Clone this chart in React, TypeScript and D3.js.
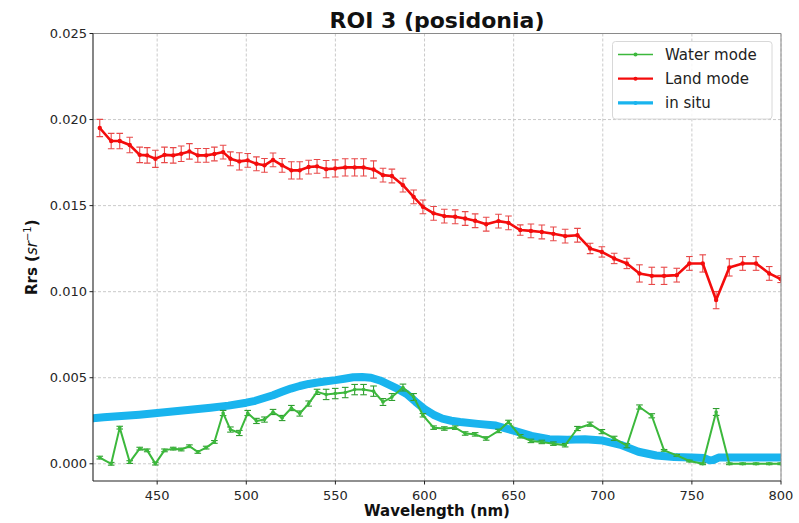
import React from "react";
import * as d3 from "d3";

const wavelengths = [417.8, 424.2, 429.0, 434.6, 440.2, 444.4, 449.0, 454.1, 459.0, 463.5, 468.1, 472.8, 477.5, 482.1, 487.0, 491.1, 496.1, 500.8, 505.7, 510.2, 515.0, 520.1, 525.3, 530.0, 535.0, 539.7, 544.8, 549.9, 555.5, 560.8, 565.8, 571.4, 576.7, 581.7, 587.9, 593.9, 599.1, 605.1, 611.1, 617.2, 622.8, 628.4, 634.6, 641.5, 647.1, 653.7, 659.7, 665.8, 672.3, 678.9, 685.8, 692.9, 699.5, 706.4, 713.5, 720.6, 727.5, 734.4, 741.5, 748.6, 756.1, 763.6, 771.0, 778.5, 786.0, 793.4, 799.8];

const landMode = [0.01951, 0.01875, 0.01875, 0.01852, 0.01795, 0.01792, 0.01772, 0.01795, 0.01792, 0.01801, 0.01815, 0.01792, 0.01792, 0.0180, 0.01811, 0.01772, 0.01757, 0.01763, 0.01743, 0.01734, 0.01766, 0.01734, 0.01705, 0.01705, 0.01724, 0.01728, 0.01712, 0.01716, 0.01722, 0.01722, 0.01722, 0.0171, 0.01677, 0.01672, 0.01619, 0.01551, 0.01493, 0.01455, 0.01439, 0.01435, 0.01425, 0.01412, 0.01392, 0.0141, 0.014, 0.01358, 0.01353, 0.01347, 0.01336, 0.01323, 0.01328, 0.01251, 0.01231, 0.01193, 0.01164, 0.01106, 0.01092, 0.01092, 0.01096, 0.01164, 0.01164, 0.00951, 0.01141, 0.01164, 0.01164, 0.01106, 0.01073];

const landErr = [0.0005, 0.00045, 0.00045, 0.00045, 0.00045, 0.00045, 0.0005, 0.00045, 0.00045, 0.00045, 0.00045, 0.0004, 0.0004, 0.0004, 0.0004, 0.0004, 0.0005, 0.0004, 0.0004, 0.0004, 0.0004, 0.0004, 0.0005, 0.0005, 0.0004, 0.0004, 0.0005, 0.0005, 0.0005, 0.0005, 0.0005, 0.0005, 0.0004, 0.0004, 0.0004, 0.0004, 0.0004, 0.0004, 0.0004, 0.0004, 0.0004, 0.0004, 0.0004, 0.0004, 0.0004, 0.0003, 0.0004, 0.0004, 0.0004, 0.0004, 0.0004, 0.0003, 0.0003, 0.0003, 0.0003, 0.0005, 0.0005, 0.0005, 0.0004, 0.0004, 0.0005, 0.0005, 0.0005, 0.0004, 0.0004, 0.0004, 0.0002];

const waterMode = [0.00036, 0.0, 0.0021, 0.0001, 0.00088, 0.00078, 0.00001, 0.00078, 0.00088, 0.00083, 0.00102, 0.00069, 0.00094, 0.00127, 0.00295, 0.00199, 0.00179, 0.00295, 0.00249, 0.00257, 0.00301, 0.00266, 0.00324, 0.00292, 0.0035, 0.00418, 0.00403, 0.00408, 0.00414, 0.00431, 0.00431, 0.00422, 0.00359, 0.00388, 0.00443, 0.00388, 0.00282, 0.0021, 0.00205, 0.0021, 0.00176, 0.00171, 0.00147, 0.00191, 0.00243, 0.0016, 0.00133, 0.00127, 0.00117, 0.00108, 0.00205, 0.0023, 0.00187, 0.00148, 0.00105, 0.0033, 0.00279, 0.00078, 0.00049, 0.00016, 0.0, 0.00301, 0.0, 0.0, 0.0, 0.0, 0.0];

const waterErr = [0.00008, 0.00008, 0.00008, 0.00008, 0.00008, 0.00008, 0.00008, 0.00008, 0.00008, 0.00008, 0.00008, 0.00008, 0.00008, 0.00008, 0.00015, 0.00015, 0.00015, 0.00015, 0.00015, 0.00015, 0.00015, 0.00015, 0.00015, 0.00015, 0.00015, 0.00015, 0.0003, 0.0003, 0.0003, 0.0003, 0.0003, 0.0003, 0.0002, 0.0002, 0.0002, 0.0002, 0.0001, 0.0001, 0.0001, 0.0001, 0.0001, 0.0001, 0.0001, 0.0001, 0.0001, 0.0001, 0.0001, 0.0001, 0.0001, 0.0001, 0.00012, 0.00012, 0.00012, 0.00012, 0.00012, 0.00012, 0.00012, 0.00005, 0.00005, 0.00005, 0.00005, 0.0002, 0.00005, 0.00005, 0.00005, 0.00005, 0.00005];

const inSituWl = [414, 420, 430, 440, 450, 460, 470, 480, 490, 500, 505, 510, 515, 520, 525, 530, 535, 540, 545, 550, 555, 560, 565, 570, 575, 580, 585, 590, 595, 600, 605, 610, 615, 620, 630, 640, 650, 660, 670, 680, 690, 700, 710, 720, 730, 740, 750, 757, 760, 762, 765, 780, 800];
const inSitu = [0.00265, 0.0027, 0.00277, 0.00285, 0.00295, 0.00305, 0.00316, 0.00326, 0.00338, 0.00355, 0.00366, 0.00382, 0.00398, 0.00418, 0.00437, 0.00452, 0.00464, 0.00472, 0.0048, 0.00486, 0.00494, 0.00503, 0.00504, 0.005, 0.00484, 0.0046, 0.00435, 0.00405, 0.0036, 0.00318, 0.00285, 0.00262, 0.0025, 0.00243, 0.00232, 0.00222, 0.00193, 0.00162, 0.00143, 0.0014, 0.00142, 0.00135, 0.0011, 0.0007, 0.00048, 0.0004, 0.00036, 0.00033, 0.0002, 0.00022, 0.00036, 0.00037, 0.00037];

const xTicks = [450, 500, 550, 600, 650, 700, 750, 800];
const yTicks = [0.0, 0.005, 0.01, 0.015, 0.02, 0.025];

const seriesNames = ["Water mode", "Land mode", "in situ"];

const W = 799;
const H = 523;
const left = 93;
const right = 781;
const top = 33.5;
const bottom = 481;

const GREEN = "#3cb83c";
const RED = "#f40c0c";
const BLUE = "#19b4ee";
const FONT = "DejaVu Sans, sans-serif";

export default function App() {
  const x = d3.scaleLinear().domain([414, 800]).range([left, right]);
  const y = d3.scaleLinear().domain([-0.001, 0.025]).range([bottom, top]);

  const ptLine = d3
    .line<[number, number]>()
    .x((d) => x(d[0]))
    .y((d) => y(d[1]));

  const landPts: [number, number][] = wavelengths.map((w, i) => [w, landMode[i]]);
  const waterPts: [number, number][] = wavelengths.map((w, i) => [w, waterMode[i]]);
  const situPts: [number, number][] = inSituWl.map((w, i) => [w, inSitu[i]]);

  const errBars = (vals: number[], errs: number[], color: string, key: string) =>
    wavelengths.map((w, i) => {
      const cx = x(w);
      const y1 = y(vals[i] + errs[i]);
      const y2 = y(vals[i] - errs[i]);
      return (
        <g key={key + i} stroke={color} strokeWidth={1.1}>
          <line x1={cx} x2={cx} y1={y1} y2={y2} />
          <line x1={cx - 3.3} x2={cx + 3.3} y1={y1} y2={y1} />
          <line x1={cx - 3.3} x2={cx + 3.3} y1={y2} y2={y2} />
        </g>
      );
    });

  const legendX = 612.5;
  const legendY = 41.5;
  const legendColors = [GREEN, RED, BLUE];
  const legendWidths = [1.6, 2.2, 3.2];

  return (
    <svg
      width={W}
      height={H}
      style={{ position: "absolute", left: 0, top: 0, background: "#fff" }}
      fontFamily={FONT}
    >
      <rect x={0} y={0} width={W} height={H} fill="#fff" />
      <defs>
        <clipPath id="plotClip">
          <rect x={left} y={top} width={right - left} height={bottom - top} />
        </clipPath>
      </defs>

      {/* grid */}
      <g stroke="#c4c4c4" strokeWidth={0.9} strokeDasharray="3,2">
        {xTicks.map((t) => (
          <line key={"gx" + t} x1={x(t)} x2={x(t)} y1={top} y2={bottom} />
        ))}
        {yTicks.map((t) => (
          <line key={"gy" + t} x1={left} x2={right} y1={y(t)} y2={y(t)} />
        ))}
      </g>

      <g clipPath="url(#plotClip)">
        {/* in situ */}
        <path d={ptLine(situPts) || ""} fill="none" stroke={BLUE} strokeWidth={8} strokeLinejoin="round" strokeLinecap="round" />

        {/* land mode */}
        {errBars(landMode, landErr, "#e84848", "le")}
        <path d={ptLine(landPts) || ""} fill="none" stroke={RED} strokeWidth={2.6} strokeLinejoin="round" />
        {landPts.map((p, i) => (
          <circle key={"lp" + i} cx={x(p[0])} cy={y(p[1])} r={2.2} fill={RED} />
        ))}

        {/* water mode */}
        {errBars(waterMode, waterErr, "#2f9e2f", "we")}
        <path d={ptLine(waterPts) || ""} fill="none" stroke={GREEN} strokeWidth={2} strokeLinejoin="round" />
        {waterPts.map((p, i) => (
          <circle key={"wp" + i} cx={x(p[0])} cy={y(p[1])} r={1.8} fill={GREEN} />
        ))}
      </g>

      {/* spines */}
      <line x1={left} x2={right} y1={top} y2={top} stroke="#8a8a8a" strokeWidth={1} />
      <line x1={right} x2={right} y1={top} y2={bottom} stroke="#8a8a8a" strokeWidth={1} />
      <line x1={left} x2={left} y1={top} y2={bottom} stroke="#222" strokeWidth={1.1} />
      <line x1={left} x2={right} y1={bottom} y2={bottom} stroke="#222" strokeWidth={1.1} />

      {/* ticks */}
      {xTicks.map((t) => (
        <g key={"xt" + t}>
          <line x1={x(t)} x2={x(t)} y1={bottom} y2={bottom + 3.5} stroke="#222" />
          <text x={x(t)} y={bottom + 19} textAnchor="middle" fontSize={13} fill="#262626">
            {t}
          </text>
        </g>
      ))}
      {yTicks.map((t) => (
        <g key={"yt" + t}>
          <line x1={left - 3.5} x2={left} y1={y(t)} y2={y(t)} stroke="#222" />
          <text x={left - 6} y={y(t) + 4.6} textAnchor="end" fontSize={13} fill="#262626">
            {d3.format(".3f")(t)}
          </text>
        </g>
      ))}

      {/* title */}
      <text x={(left + right) / 2} y={28} textAnchor="middle" fontSize={22} fontWeight="bold" fill="#111">
        ROI 3 (posidonia)
      </text>

      {/* axis labels */}
      <text x={(left + right) / 2} y={516} textAnchor="middle" fontSize={15} fontWeight="bold" fill="#111">
        Wavelength (nm)
      </text>
      <text
        transform={`translate(36.5, ${(top + bottom) / 2}) rotate(-90)`}
        textAnchor="middle"
        fontSize={15}
        fill="#111"
      >
        <tspan fontWeight="bold">Rrs (</tspan>
        <tspan fontStyle="italic">sr</tspan>
        <tspan fontSize={10} dy={-6}>−1</tspan>
        <tspan fontWeight="bold" dy={6}>)</tspan>
      </text>

      {/* legend */}
      <rect x={legendX} y={legendY} width={159.5} height={77.5} rx={3} fill="#fff" fillOpacity={0.85} stroke="#d8d8d8" strokeWidth={1} />
      {seriesNames.map((name, i) => {
        const ly = legendY + 13 + i * 24.2;
        return (
          <g key={"lg" + i}>
            <line x1={legendX + 5.5} x2={legendX + 40.5} y1={ly} y2={ly} stroke={legendColors[i]} strokeWidth={legendWidths[i]} />
            <circle cx={legendX + 23} cy={ly} r={2} fill={legendColors[i]} />
            <text x={legendX + 52.5} y={ly + 5} fontSize={15} fill="#222">
              {name}
            </text>
          </g>
        );
      })}
    </svg>
  );
}
